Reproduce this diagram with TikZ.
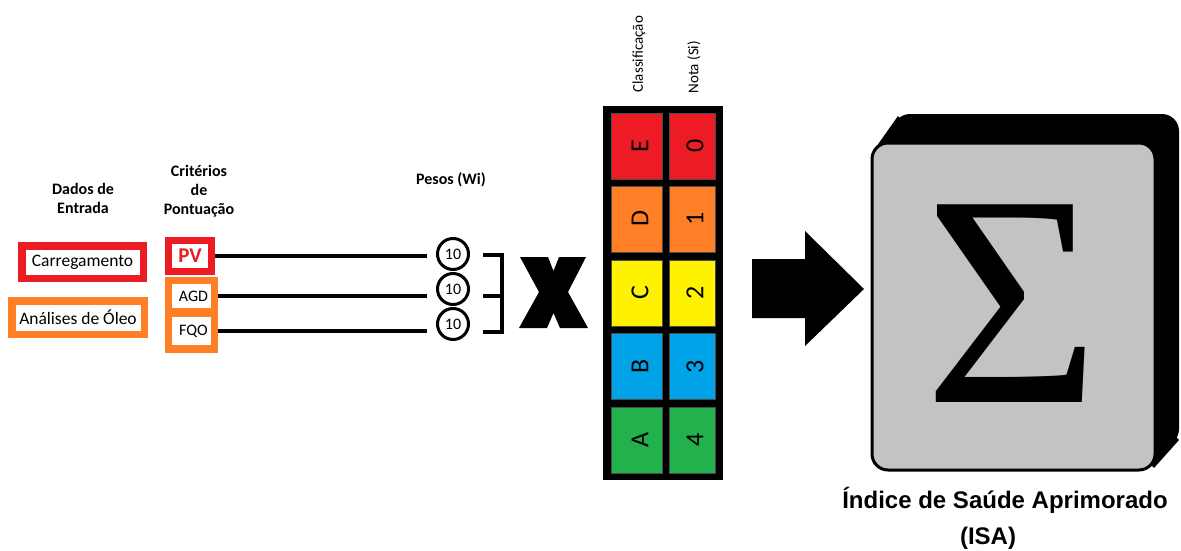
\documentclass[tikz,border=0pt]{standalone}
\usepackage{fontspec}
\setmainfont{Carlito}
\newfontfamily\serifsig{Liberation Serif}
\newfontfamily\capfont{Liberation Sans}
\definecolor{pred}{HTML}{ED1C24}
\definecolor{porange}{HTML}{FF7F27}
\definecolor{pyellow}{HTML}{FFF200}
\definecolor{pblue}{HTML}{00A2E8}
\definecolor{pgreen}{HTML}{22B14C}
\definecolor{pgray}{HTML}{C3C3C3}
\tikzset{
  heading/.style={font=\fontsize{16}{19}\selectfont\bfseries, align=center},
  inbox/.style={draw=#1, line width=7.5pt, fill=white, inner sep=0pt, font=\fontsize{17.5}{20}\selectfont},
  wire/.style={line width=4pt},
  weight/.style={circle, draw, line width=3pt, minimum size=31pt, inner sep=0pt, font=\fontsize{16}{18}\selectfont},
  cell/.style={fill=#1, draw=black!70, line width=0.5pt, minimum width=51pt, minimum height=66pt, inner sep=0pt},
  celltxt/.style={rotate=90, font=\fontsize{26}{28}\selectfont},
  colhead/.style={rotate=90, anchor=west, font=\fontsize{15}{17}\selectfont},
}
\begin{document}
\begin{tikzpicture}[x=1pt, y=-1pt]
\useasboundingbox (0,0) rectangle (1181,551);

% headings
\node[heading] (hdados) at (83,198) {Dados de\\Entrada};
\node[heading] (hcrit) at (199,191) {Critérios\\de\\Pontuação};
\node[heading] (hpesos) at (451,180) {Pesos (Wi)};

% input boxes
\node[inbox=pred, minimum width=121.5pt, minimum height=32.5pt] (carr) at (82.5,262) {Carregamento};
\node[inbox=porange, minimum width=132.5pt, minimum height=33.5pt] (oleo) at (78,317.5) {Análises de Óleo};

% criteria
\node[inbox=pred, line width=7pt, minimum width=43pt, minimum height=31pt, text=pred, font=\fontsize{21}{23}\selectfont\bfseries] (pv) at (190,256) {PV};
\node[fill=porange, minimum width=53pt, minimum height=76pt, inner sep=0pt] (grp) at (191.5,315) {};
\node[fill=white, minimum width=39pt, minimum height=24pt, inner sep=0pt, font=\fontsize{16}{18}\selectfont] (agd) at (191.5,296) {\hspace{4pt}AGD};
\node[fill=white, minimum width=39pt, minimum height=28pt, inner sep=0pt, font=\fontsize{16}{18}\selectfont] (fqo) at (191.5,331) {\hspace{4pt}FQO};

% weights
\node[weight] (w1) at (453,254) {10};
\node[weight] (w2) at (453,289) {10};
\node[weight] (w3) at (453,324) {10};

\draw[wire, shorten >=9pt] (pv.east) -- (pv.east -| w1.west);
\draw[wire, shorten >=9pt] (grp.east |- agd) -- (w2.west |- agd);
\draw[wire, shorten >=9pt] (grp.east |- fqo) -- (w3.west |- fqo);

% bracket
\coordinate (b1) at (483,255);
\coordinate (b2) at (483,296);
\coordinate (b3) at (483,332);
\draw[line width=3.5pt] (b1) -- ++(19,0) |- (b3);
\draw[line width=3.5pt] (b2) -- ++(19,0);

% big X
\fill (520,257) -- (548,257) -- (553.5,271) -- (559,257) -- (586,257) -- (568,292) -- (588,328) -- (560,328) -- (553.5,313) -- (547,328) -- (519,328) -- (539,292) -- cycle;

% table
\node[fill=black, minimum width=120pt, minimum height=374pt, inner sep=0pt] (tab) at (663,293) {};
\node[cell=pred]    (e) at (636.5,146) {};
\node[cell=porange] (d) at (636.5,219) {};
\node[cell=pyellow] (c) at (636.5,293) {};
\node[cell=pblue]   (b) at (636.5,366.5) {};
\node[cell=pgreen]  (a) at (636.5,440) {};
\node[cell=pred, minimum width=46pt]    (n0) at (692,146) {};
\node[cell=porange, minimum width=46pt] (n1) at (692,219) {};
\node[cell=pyellow, minimum width=46pt] (n2) at (692,293) {};
\node[cell=pblue, minimum width=46pt]   (n3) at (692,366.5) {};
\node[cell=pgreen, minimum width=46pt]  (n4) at (692,440) {};
\node[celltxt] (te) at (640,146) {E};
\node[celltxt] (td) at (640,219) {D};
\node[celltxt] (tc) at (640,293) {C};
\node[celltxt] (tb) at (640,366.5) {B};
\node[celltxt] (ta) at (640,440) {A};
\node[celltxt] (t0) at (695,146) {0};
\node[celltxt] (t1) at (695,219) {1};
\node[celltxt] (t2) at (695,293) {2};
\node[celltxt] (t3) at (695,366.5) {3};
\node[celltxt] (t4) at (695,440) {4};
\node[colhead] (hcl) at (639,96) {Classificação};
\node[colhead] (hnt) at (694,97) {Nota (Si)};

% big arrow
\fill (752,259) -- (805,259) -- (805,231) -- (864,289) -- (805,346) -- (805,318) -- (752,318) -- cycle;

% sigma box
\fill (874,150) -- (898,116) -- (1179,440) -- (1154,468) -- cycle;
\fill[rounded corners=17pt] (893,114) rectangle (1179,446);
\draw[fill=pgray, line width=3pt, rounded corners=16pt] (872,143) rectangle (1155,470);
\node[anchor=base, font=\serifsig\fontsize{302}{302}\selectfont, inner sep=0pt] (sig) at (1012,402) {Σ};

% caption
\node[font=\capfont\fontsize{24}{28}\selectfont\bfseries] (cap1) at (1005,500) {Índice de Saúde Aprimorado};
\node[font=\capfont\fontsize{24}{28}\selectfont\bfseries] (cap2) at (988,538) {(ISA)};
\end{tikzpicture}
\end{document}
